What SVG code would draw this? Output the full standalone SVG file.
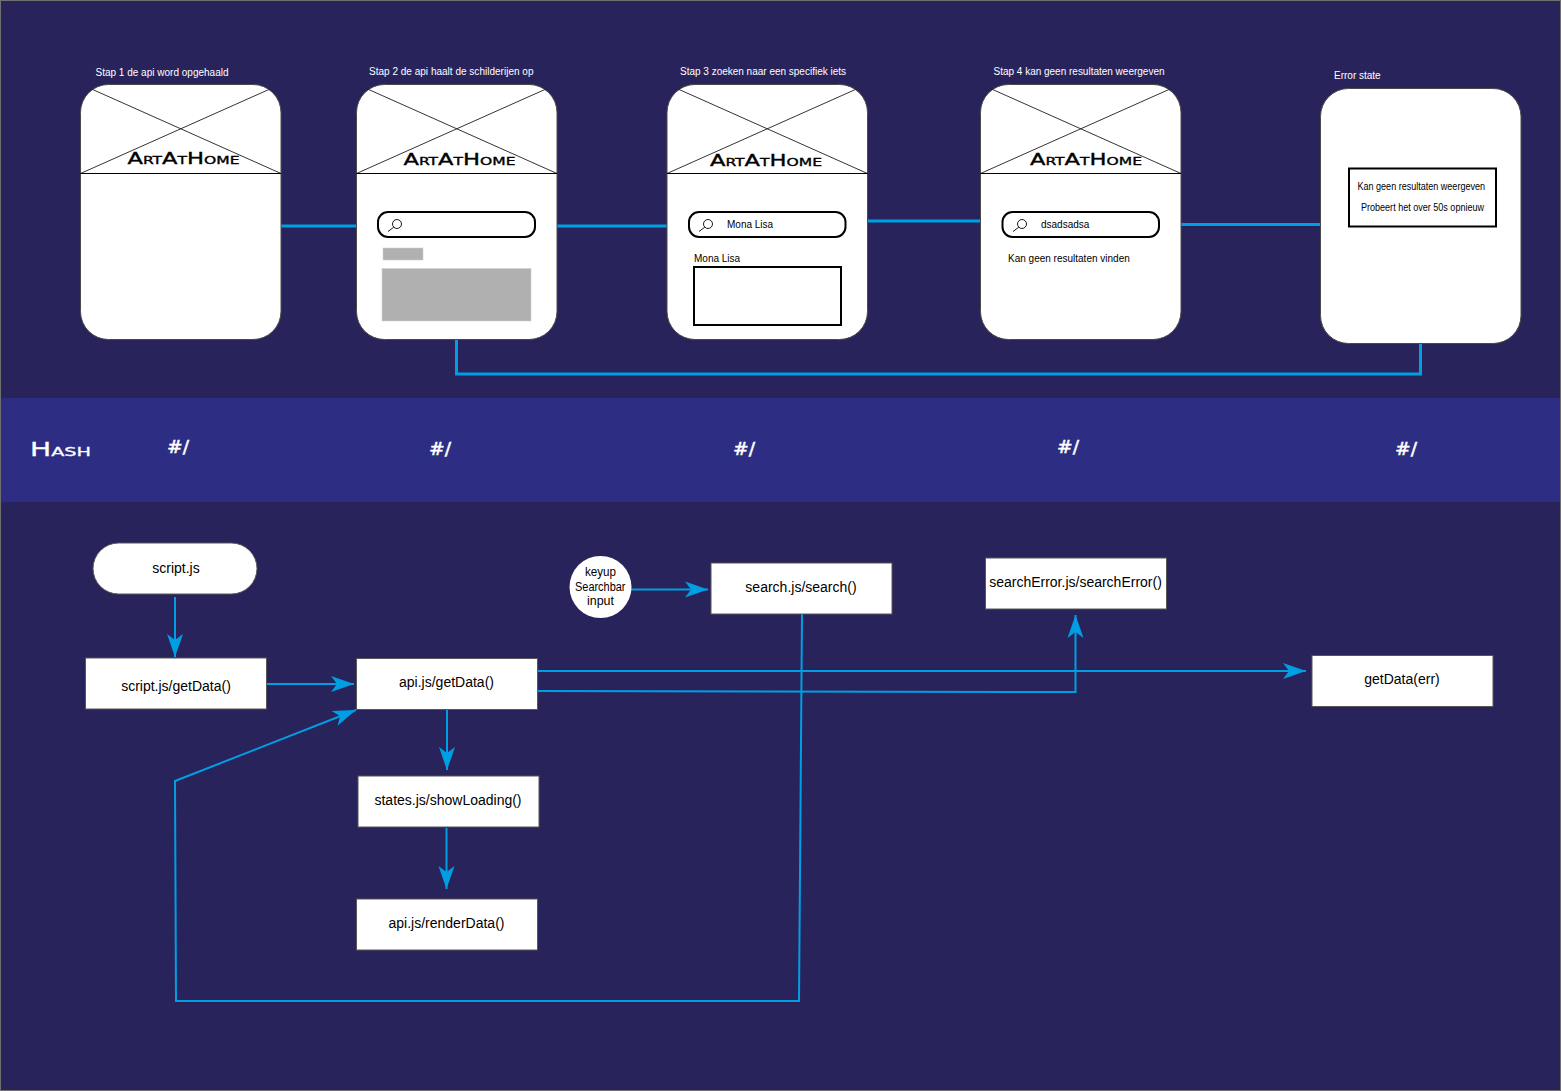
<svg xmlns="http://www.w3.org/2000/svg" width="1561" height="1091" viewBox="0 0 1561 1091">
<style>
text{font-family:"Liberation Sans",Arial,sans-serif}
.cap{font-size:10px;fill:#fff}
.small{font-size:10px;fill:#000}
.logo{font-size:16px;fill:#000;stroke:#000;stroke-width:.35;font-family:"DejaVu Sans",sans-serif;font-variant:small-caps}
.hash{font-size:18px;fill:#fff;stroke:#fff;stroke-width:.5;font-family:"DejaVu Sans",sans-serif}
.hashtitle{font-size:19px;fill:#fff;stroke:#fff;stroke-width:.3;font-family:"DejaVu Sans",sans-serif;font-variant:small-caps}
.phone{fill:#fff;stroke:#4a4a4a;stroke-width:1}
.thin{fill:none;stroke:#1d1d1b;stroke-width:.9}
.bar{fill:#fff;stroke:#000;stroke-width:2}
.flow{fill:none;stroke:#009fe3;stroke-width:2}
.link{fill:none;stroke:#009fe3;stroke-width:3}
.box{fill:#fff;stroke:#575756;stroke-width:1}
.lbl{font-size:14px;fill:#000;text-anchor:middle}
.grey{fill:#b0b0b0;stroke:#d0d0d0;stroke-width:.6}
.kl{font-size:12px;fill:#000}
</style>
<defs>
<marker id="arrow" markerUnits="userSpaceOnUse" markerWidth="26" markerHeight="18" refX="23" refY="8" orient="auto" overflow="visible"><path d="M0 0L23 8L0 16L6 8Z" fill="#009fe3"/></marker>
<g id="wire"><rect class="phone" x="0" y="0" width="200.500" height="255" rx="28"/><path class="thin" d="M11 4.500L200.500 89M189.500 4.500L0 89"/><path d="M0 89H200.500" stroke="#000" stroke-width="1"/></g>
<g id="glass"><circle cx="0" cy="0" r="4.500" fill="none" stroke="#000" stroke-width=".9"/><path d="M-3.200 3.200L-9 7.500" stroke="#000" stroke-width=".9"/></g>
</defs>
<rect x=".5" y=".5" width="1560" height="1090" fill="#29235c" stroke="#6f6f6e"/>
<rect id="hash-band" x="1" y="398" width="1559" height="104" fill="#2d2e83"/>
<g id="connectors">
<path class="link" d="M281 226H357M556 226H667M867 221H981M1181 224.500H1321M456.500 339V374H1420.500V343"/>
<path class="flow" marker-end="url(#arrow)" d="M175 597V657"/>
<path class="flow" marker-end="url(#arrow)" d="M267 684H354"/>
<path class="flow" marker-end="url(#arrow)" d="M447 710V770"/>
<path class="flow" marker-end="url(#arrow)" d="M446.500 828V889"/>
<path class="flow" marker-end="url(#arrow)" d="M631 589.500H708"/>
<path class="flow" marker-end="url(#arrow)" d="M538 671H1306"/>
<path class="flow" marker-end="url(#arrow)" d="M538 691L1075.500 692V615"/>
<path class="flow" marker-end="url(#arrow)" d="M802 614L799 1001H176L175 781L356 710"/>
</g>
<g id="step1"><text class="cap" x="95.500" y="76" textLength="133">Stap 1 de api word opgehaald</text><use href="#wire" x="80.500" y="84.500"/><text class="logo" x="127.500" y="164" textLength="112" lengthAdjust="spacingAndGlyphs">ArtAtHome</text></g>
<g id="step2"><text class="cap" x="369" y="75" textLength="164.500">Stap 2 de api haalt de schilderijen op</text><use href="#wire" x="356.500" y="84.500"/><text class="logo" x="403.500" y="165" textLength="112" lengthAdjust="spacingAndGlyphs">ArtAtHome</text><rect class="bar" x="378" y="212" width="157" height="25" rx="10"/><use href="#glass" x="397" y="224"/><rect class="grey" x="383" y="248" width="40" height="12"/><rect class="grey" x="382" y="268.500" width="149" height="52.500"/></g>
<g id="step3"><text class="cap" x="680" y="75" textLength="166">Stap 3 zoeken naar een specifiek iets</text><use href="#wire" x="667" y="84.500"/><text class="logo" x="710" y="166" textLength="112" lengthAdjust="spacingAndGlyphs">ArtAtHome</text><rect class="bar" x="689" y="212" width="156.500" height="25" rx="10"/><use href="#glass" x="708" y="224"/><text class="small" x="727" y="228">Mona Lisa</text><text class="small" x="694" y="262">Mona Lisa</text><rect x="694" y="267" width="147" height="58" fill="#fff" stroke="#000" stroke-width="2"/></g>
<g id="step4"><text class="cap" x="993.500" y="75" textLength="171">Stap 4 kan geen resultaten weergeven</text><use href="#wire" x="980.500" y="84.500"/><text class="logo" x="1030" y="165" textLength="112" lengthAdjust="spacingAndGlyphs">ArtAtHome</text><rect class="bar" x="1002.500" y="212" width="156.500" height="25" rx="10"/><use href="#glass" x="1022" y="224"/><text class="small" x="1041" y="228">dsadsadsa</text><text class="small" x="1008" y="262">Kan geen resultaten vinden</text></g>
<g id="error-state"><text class="cap" x="1334" y="79">Error state</text><rect class="phone" x="1320.500" y="88.500" width="200.500" height="255" rx="28"/><rect x="1349" y="168.500" width="147" height="58" fill="#fff" stroke="#000" stroke-width="2"/><text class="small" x="1357.500" y="190" textLength="127.500" lengthAdjust="spacingAndGlyphs">Kan geen resultaten weergeven</text><text class="small" x="1361" y="211" textLength="123" lengthAdjust="spacingAndGlyphs">Probeert het over 50s opnieuw</text></g>
<g id="hash-labels">
<text class="hashtitle" x="30" y="456" textLength="61" lengthAdjust="spacingAndGlyphs">Hash</text>
<text class="hash" x="167" y="453" textLength="22" lengthAdjust="spacingAndGlyphs">#/</text>
<text class="hash" x="429" y="455" textLength="22" lengthAdjust="spacingAndGlyphs">#/</text>
<text class="hash" x="733" y="455" textLength="22" lengthAdjust="spacingAndGlyphs">#/</text>
<text class="hash" x="1057" y="453" textLength="22" lengthAdjust="spacingAndGlyphs">#/</text>
<text class="hash" x="1395" y="455" textLength="22" lengthAdjust="spacingAndGlyphs">#/</text>
</g>
<g id="script-js"><rect class="box" x="93" y="543" width="164" height="51" rx="25.500"/><text class="lbl" x="176" y="573">script.js</text></g>
<g id="script-getdata"><rect class="box" x="85.500" y="658" width="181" height="51"/><text class="lbl" x="176" y="691">script.js/getData()</text></g>
<g id="api-getdata"><rect class="box" x="356.500" y="658.500" width="181" height="51"/><text class="lbl" x="446.500" y="687">api.js/getData()</text></g>
<g id="states-showloading"><rect class="box" x="358" y="776" width="181" height="51"/><text class="lbl" x="448" y="805">states.js/showLoading()</text></g>
<g id="api-renderdata"><rect class="box" x="356.500" y="899" width="181" height="51"/><text class="lbl" x="446.500" y="928">api.js/renderData()</text></g>
<g id="keyup"><circle cx="600.500" cy="587" r="31" fill="#fff"/><text class="kl" x="585" y="576" textLength="31" lengthAdjust="spacingAndGlyphs">keyup</text><text class="kl" x="575" y="591" textLength="50.500" lengthAdjust="spacingAndGlyphs">Searchbar</text><text class="kl" x="587" y="605" textLength="27" lengthAdjust="spacingAndGlyphs">input</text></g>
<g id="search"><rect class="box" x="711" y="563" width="181" height="51"/><text class="lbl" x="801" y="592">search.js/search()</text></g>
<g id="search-error"><rect class="box" x="985.500" y="558" width="181" height="51"/><text class="lbl" x="1075.500" y="587">searchError.js/searchError()</text></g>
<g id="getdata-err"><rect class="box" x="1312" y="655.500" width="181" height="51"/><text class="lbl" x="1402" y="684">getData(err)</text></g>
</svg>
